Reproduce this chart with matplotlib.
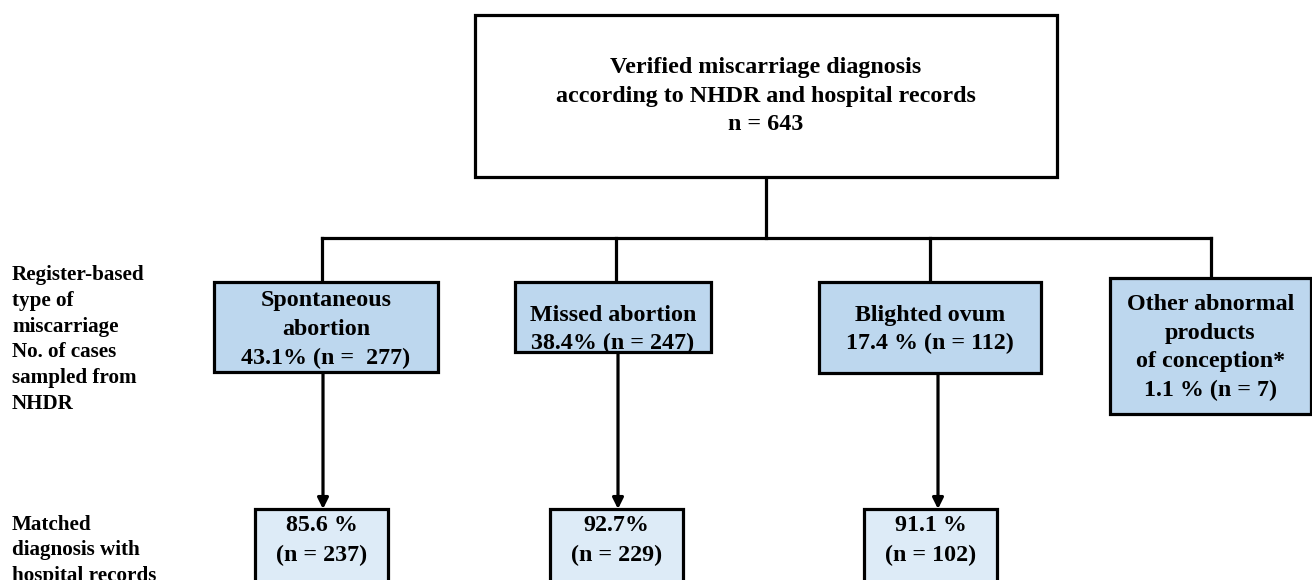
import matplotlib.pyplot as plt
from matplotlib.patches import Rectangle

# data
top_lines = ["Verified miscarriage diagnosis", "according to NHDR and hospital records"]
total_n = 643

type_names = [["Spontaneous", "abortion"], ["Missed abortion"], ["Blighted ovum"],
              ["Other abnormal", "products", "of conception*"]]
type_pct = ["43.1%", "38.4%", "17.4 %", "1.1 %"]
type_n = ["n =  277", "n = 247", "n = 112", "n = 7"]

matched_pct = ["85.6 %", "92.7%", "91.1 %"]
matched_n = [237, 229, 102]

row_labels = [["Register-based", "type of", "miscarriage", "No. of cases", "sampled from", "NHDR"],
              ["Matched", "diagnosis with", "hospital records"]]

# layout (pixels)
W, H = 1312, 580
LW = 2.3
FONT = "Liberation Serif"
BOX_FS = 17.3
LAB_FS = 15.2
SP = 28.5
mid_fill = "#bdd7ee"
low_fill = "#ddebf7"

fig = plt.figure(figsize=(W / 100, H / 100), dpi=100)
ax = fig.add_axes([0, 0, 1, 1])
ax.set_xlim(0, W)
ax.set_ylim(H, 0)
ax.axis("off")


def box(x0, y0, x1, y1, fill):
    ax.add_patch(Rectangle((x0, y0), x1 - x0, y1 - y0, facecolor=fill,
                           edgecolor="black", lw=LW, clip_on=True, zorder=2))


def lines(x, yc, txts, size=BOX_FS, ha="center", sp=SP):
    n = len(txts)
    for i, t in enumerate(txts):
        y = yc + (i - (n - 1) / 2) * sp
        ax.text(x, y, t, ha=ha, va="center_baseline", fontsize=size,
                fontweight="bold", family=FONT, zorder=3)


def seg(xs, ys):
    ax.plot(xs, ys, color="black", lw=LW, solid_capstyle="projecting", zorder=1)


# top box
box(475, 15, 1057, 177, "white")
lines(766, 94, top_lines + [f"n = {total_n}"])

# connectors
seg([766, 766], [177, 238])
seg([322, 1211], [238, 238])

mid_boxes = [(214, 282, 438, 372), (515, 282, 711, 352), (819, 282, 1041, 373), (1110, 278, 1311, 414)]
drops = [322, 616, 930, 1211]
text_yc = [327, 327, 327, 345]
for (x0, y0, x1, y1), dx, name, p, n, yc in zip(mid_boxes, drops, type_names, type_pct, type_n, text_yc):
    seg([dx, dx], [238, y0])
    box(x0, y0, x1, y1, mid_fill)
    cx = (x0 + x1) / 2
    lines(cx, yc, name + [f"{p} ({n})"], sp=28.8)

# lower row
low_boxes = [(255, 509, 388, 620), (550, 509, 683, 620), (864, 509, 997, 620)]
arrows_x = [323, 618, 938]
for (x0, y0, x1, y1), axx, mb, p, n in zip(low_boxes, arrows_x, mid_boxes, matched_pct, matched_n):
    ax.annotate("", xy=(axx, y0), xytext=(axx, mb[3]),
                arrowprops=dict(arrowstyle="-|>", color="black", lw=LW,
                                mutation_scale=16, shrinkA=0, shrinkB=0), zorder=1)
    box(x0, y0, x1, y1, low_fill)
    lines((x0 + x1) / 2, 538, [p, f"(n = {n})"], sp=30)

# row labels
lines(12, 337, row_labels[0], size=LAB_FS, ha="left", sp=25.8)
lines(12, 548, row_labels[1], size=LAB_FS, ha="left", sp=25.5)

fig.savefig("out.png", dpi=100)
